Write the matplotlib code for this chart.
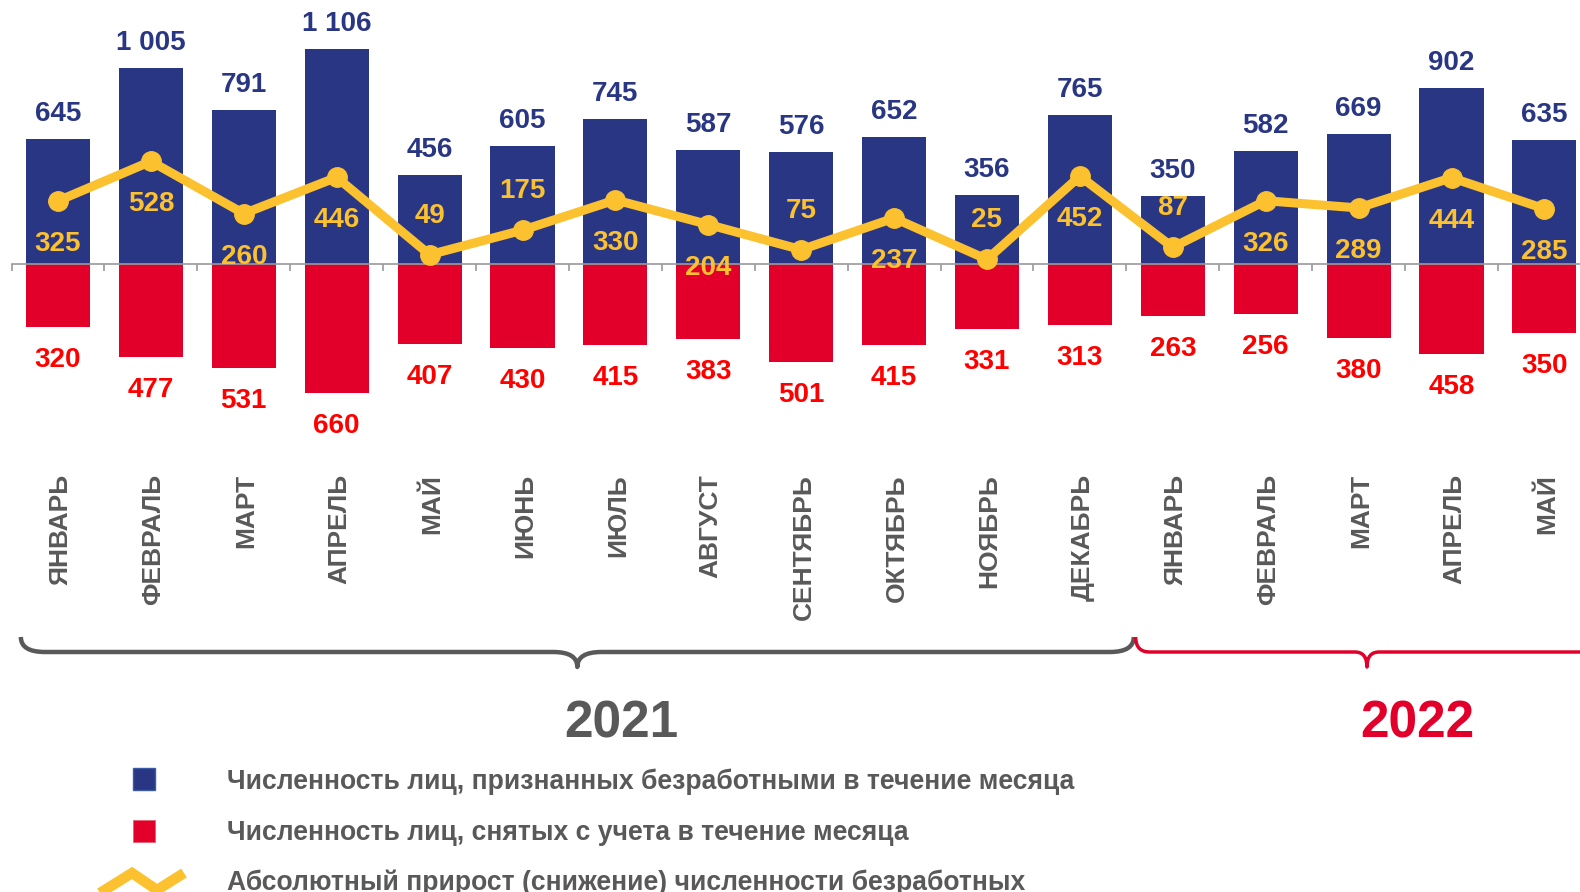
import matplotlib
matplotlib.use("Agg")
import matplotlib.pyplot as plt
from matplotlib.transforms import blended_transform_factory, Affine2D
from matplotlib.path import Path
from matplotlib.patches import PathPatch, Rectangle
from matplotlib.lines import Line2D

plt.rcParams['font.family'] = ['Liberation Sans', 'DejaVu Sans']

# ---------------- data ----------------
months = ["ЯНВАРЬ", "ФЕВРАЛЬ", "МАРТ", "АПРЕЛЬ", "МАЙ", "ИЮНЬ", "ИЮЛЬ", "АВГУСТ",
          "СЕНТЯБРЬ", "ОКТЯБРЬ", "НОЯБРЬ", "ДЕКАБРЬ",
          "ЯНВАРЬ", "ФЕВРАЛЬ", "МАРТ", "АПРЕЛЬ", "МАЙ"]
recognized = [645, 1005, 791, 1106, 456, 605, 745, 587, 576, 652, 356, 765,
              350, 582, 669, 902, 635]
removed = [320, 477, 531, 660, 407, 430, 415, 383, 501, 415, 331, 313,
           263, 256, 380, 458, 350]
growth = [325, 528, 260, 446, 49, 175, 330, 204, 75, 237, 25, 452,
          87, 326, 289, 444, 285]
years = ["2021", "2022"]
year_counts = [12, 5]
legend_labels = ["Численность лиц, признанных безработными в течение месяца",
                 "Численность лиц, снятых с учета в течение месяца",
                 "Абсолютный прирост (снижение) численности безработных"]

# ---------------- style ----------------
BLUE = '#293684'
RED = '#E2002B'
RED_TXT = '#FF0000'
YELLOW = '#FCC12E'
GRAY = '#595959'
AXGRAY = '#9A9A9A'

W, H = 1580, 892
fig = plt.figure(figsize=(W / 100, H / 100), dpi=100)

step = 92.9          # px per category
left_px = 11.55
zero_px = 264.3      # px from top
scale = 0.195        # px per unit
ax_h = 440
ax = fig.add_axes([left_px / W, (H - ax_h) / H, len(months) * step / W, ax_h / H])
ax.set_xlim(-0.5, len(months) - 0.5)
ax.set_ylim(-(ax_h - zero_px) / scale, zero_px / scale)

for s in ['top', 'right', 'left']:
    ax.spines[s].set_visible(False)
ax.spines['bottom'].set_position(('data', 0))
ax.spines['bottom'].set_color(AXGRAY)
ax.spines['bottom'].set_linewidth(1.2)
ax.spines['bottom'].set_zorder(3)
ax.set_yticks([])
ax.set_xticks([i - 0.5 for i in range(len(months) + 1)])
ax.set_xticklabels([])
ax.tick_params(axis='x', direction='out', length=5, width=1.2, color=AXGRAY)

x = list(range(len(months)))
ax.bar(x, recognized, width=0.69, color=BLUE, zorder=2)
ax.bar(x, [-v for v in removed], width=0.69, color=RED, zorder=2)
ax.plot(x, growth, color=YELLOW, lw=6.5, marker='o', ms=14, zorder=4,
        solid_joinstyle='round')


def fmt(v):
    return f"{v:,}".replace(",", " ")


for i in x:
    ax.annotate(fmt(recognized[i]), (i, recognized[i]), xytext=(0, 18),
                textcoords='offset pixels', ha='center', va='baseline',
                color=BLUE, fontsize=20, fontweight='bold', zorder=5)
    ax.annotate(fmt(removed[i]), (i, -removed[i]), xytext=(0, -40),
                textcoords='offset pixels', ha='center', va='baseline',
                color=RED_TXT, fontsize=20, fontweight='bold', zorder=5)
    off = 32 if growth[i] < 200 else -50
    ax.annotate(fmt(growth[i]), (i, growth[i]), xytext=(0, off),
                textcoords='offset pixels', ha='center', va='baseline',
                color=YELLOW, fontsize=20, fontweight='bold', zorder=6)

# transform: x in data, y in pixels from the top of the figure
flip = Affine2D().scale(1, -1).translate(0, H)
trans = blended_transform_factory(ax.transData, flip)

for i, m in enumerate(months):
    ax.text(i, 474, m, transform=trans, rotation=90, rotation_mode='anchor',
            ha='right', va='center_baseline', color=GRAY, fontsize=19,
            fontweight='bold')


def data_to_px(xd):
    return ax.transData.transform((xd, 0))[0]


def brace(x0, x1, y_end, y_line, rx_end, rx_tip, depth, color, lw):
    xm = (x0 + x1) / 2
    verts = [(x0, y_end), (x0, y_line), (x0 + rx_end, y_line),
             (xm - rx_tip, y_line),
             (xm, y_line), (xm, y_line + depth),
             (xm, y_line), (xm + rx_tip, y_line),
             (x1 - rx_end, y_line),
             (x1, y_line), (x1, y_end)]
    codes = [Path.MOVETO, Path.CURVE3, Path.CURVE3, Path.LINETO,
             Path.CURVE3, Path.CURVE3, Path.CURVE3, Path.CURVE3,
             Path.LINETO, Path.CURVE3, Path.CURVE3]
    p = PathPatch(Path(verts, codes), transform=flip, fill=False,
                  edgecolor=color, lw=lw, capstyle='butt', joinstyle='round')
    fig.add_artist(p)
    return xm


start = 0
year_colors = [GRAY, RED]
brace_styles = [(24, 24, 3.2), (14, 12, 2.5)]
label_shift = [44, 50]
for yi, (yr, cnt) in enumerate(zip(years, year_counts)):
    first, last = start, start + cnt - 1
    x0 = data_to_px(first - 0.4)
    x1 = data_to_px(last + 0.58)
    rxe, rxt, lw = brace_styles[yi]
    xm = brace(x0, x1, 637, 652, rxe, rxt, 15, year_colors[yi], lw)
    fig.text(xm + label_shift[yi], 737, yr, transform=flip, ha='center',
             va='baseline', fontsize=37, fontweight='bold', color=year_colors[yi])
    start += cnt

# legend
fig.add_artist(Rectangle((133, 768), 22, 22, transform=flip, facecolor=BLUE,
                         edgecolor='#3D5AA6', lw=1))
fig.add_artist(Rectangle((133, 820), 22, 22, transform=flip, facecolor=RED,
                         edgecolor='#E86070', lw=0.6))
fig.add_artist(Line2D([100, 132, 157, 184], [893, 873, 890, 873], transform=flip,
                      color=YELLOW, lw=7.5, solid_capstyle='butt',
                      solid_joinstyle='miter'))
for lbl, yb in zip(legend_labels, [789, 840, 890]):
    fig.text(227, yb, lbl, transform=flip, ha='left', va='baseline',
             fontsize=19.1, fontweight='bold', color=GRAY)

fig.savefig('out.png', dpi=100)
